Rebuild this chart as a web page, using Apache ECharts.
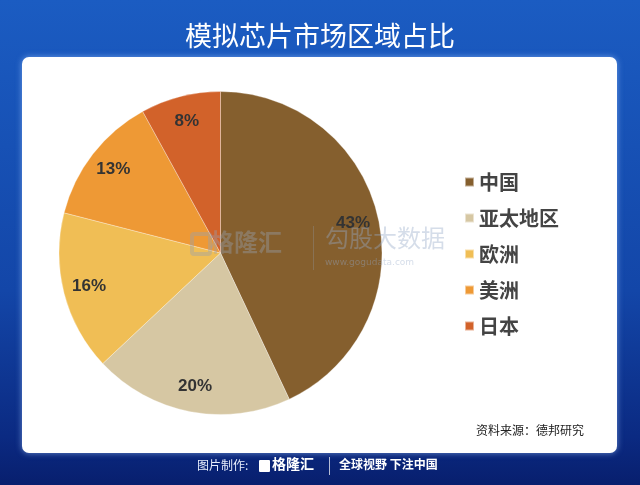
<!DOCTYPE html>
<html>
<head>
<meta charset="utf-8">
<script src="https://cdn.jsdelivr.net/npm/echarts@6/dist/echarts.min.js"></script>
<style>
html,body{margin:0;padding:0;width:640px;height:485px;overflow:hidden;}
#c{width:640px;height:485px;}
</style>
</head>
<body>
<div id="c"></div>
<script>
var categories = ['中国', '亚太地区', '欧洲', '美洲', '日本'];
var shares = [43, 20, 16, 13, 8];
var colors = ['#855f2e', '#d6c7a3', '#f0be55', '#ee9935', '#d2622a'];
var titleText = '模拟芯片市场区域占比';
var sourceText = '资料来源：德邦研究';

var chart = echarts.init(document.getElementById('c'));
var data = categories.map(function (n, i) {
  return { name: n, value: shares[i], itemStyle: { color: colors[i] } };
});
var CJK = '"Noto Sans CJK SC", "Noto Sans", sans-serif';

chart.setOption({
  animation: false,
  backgroundColor: {
    type: 'linear', x: 0, y: 0, x2: 0, y2: 1,
    colorStops: [
      { offset: 0, color: '#1b5cc2' },
      { offset: 0.6, color: '#1346a8' },
      { offset: 0.9, color: '#0b2a82' },
      { offset: 1, color: '#081f6e' }
    ]
  },
  title: {
    text: titleText, left: 'center', top: 17,
    textStyle: { color: '#ffffff', fontSize: 27, fontWeight: 'normal', fontFamily: CJK }
  },
  graphic: [
    { type: 'rect', z: -10, shape: { x: 22, y: 57, width: 595, height: 396, r: 7 },
      style: { fill: '#ffffff', shadowBlur: 6, shadowColor: 'rgba(160,200,255,0.6)' } },
    { type: 'text', z: 100, left: 476, top: 424,
      style: { text: sourceText, fill: '#222', fontSize: 12, fontFamily: CJK } },
    { type: 'text', z: 100, left: 197, top: 459,
      style: { text: '图片制作:', fill: '#e8eefc', fontSize: 12, fontFamily: CJK } },
    { type: 'rect', z: 100, shape: { x: 259, y: 460, width: 11, height: 12, r: 1 },
      style: { fill: '#ffffff' } },
    { type: 'text', z: 100, left: 272, top: 457,
      style: { text: '格隆汇', fill: '#ffffff', fontSize: 14, fontWeight: 'bold', fontFamily: CJK } },
    { type: 'rect', z: 100, shape: { x: 329, y: 457, width: 1, height: 18 },
      style: { fill: 'rgba(255,255,255,0.7)' } },
    { type: 'text', z: 100, left: 339, top: 458,
      style: { text: '全球视野 下注中国', fill: '#ffffff', fontSize: 12, fontWeight: 'bold', fontFamily: CJK } },
    { type: 'text', z: 100, left: 210, top: 230,
      style: { text: '格隆汇', fill: 'rgba(150,160,175,0.4)', fontSize: 24, fontWeight: 'bold', fontFamily: CJK } },
    { type: 'rect', z: 100, shape: { x: 192, y: 234, width: 18, height: 20, r: 2 },
      style: { fill: 'none', stroke: 'rgba(150,160,175,0.4)', lineWidth: 4 } },
    { type: 'rect', z: 100, shape: { x: 313, y: 226, width: 1, height: 44 },
      style: { fill: 'rgba(150,160,175,0.3)' } },
    { type: 'text', z: 100, left: 325, top: 226,
      style: { text: '勾股大数据', fill: 'rgba(150,170,200,0.4)', fontSize: 24, fontFamily: CJK } },
    { type: 'text', z: 100, left: 325, top: 258,
      style: { text: 'www.gogudata.com', fill: 'rgba(150,170,200,0.4)', fontSize: 9, fontFamily: 'DejaVu Sans' } }
  ],
  legend: {
    orient: 'vertical', left: 459, top: 167,
    itemWidth: 9, itemHeight: 9, itemGap: 16, itemGap: 16,
    icon: 'rect',
    data: categories,
    textStyle: { color: '#444', fontSize: 20, fontWeight: 'bold', fontFamily: CJK }
  },
  series: [
    {
      type: 'pie', center: [220.5, 253], radius: [0, 161.5],
      startAngle: 90, clockwise: true,
      label: { show: false }, labelLine: { show: false },
      itemStyle: { borderColor: 'rgba(255,255,255,0.5)', borderWidth: 0.6 },
      emphasis: { disabled: true },
      data: data
    },
    {
      type: 'pie', center: [220.5, 253], radius: [104, 161.5],
      startAngle: 90, clockwise: true, silent: true,
      legendHoverLink: false,
      itemStyle: { color: 'rgba(0,0,0,0)' },
      label: {
        show: true, position: 'inside', formatter: '{c}%',
        color: '#333', fontSize: 17, fontWeight: 'bold', fontFamily: 'Liberation Sans, Arial, sans-serif'
      },
      labelLine: { show: false },
      emphasis: { disabled: true },
      data: categories.map(function (n, i) {
        return { name: n, value: shares[i], itemStyle: { color: 'rgba(0,0,0,0)' } };
      })
    }
  ]
});
</script>
</body>
</html>
